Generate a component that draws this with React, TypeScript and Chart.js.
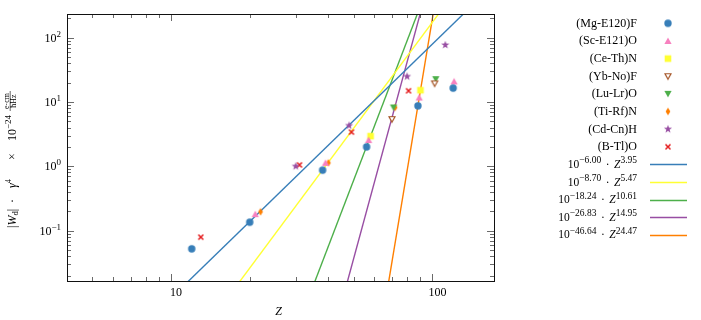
import React, { useEffect, useRef } from 'react';
import { Chart, registerables } from 'chart.js';

Chart.register(...registerables);

// ---------------- data ----------------
const mgZ = [12, 20, 38, 56, 88, 120];
const mgW = [0.052, 0.135, 0.87, 2.0, 8.7, 16.4];
const scZ = [21, 39, 57, 89, 121];
const scW = [0.18, 1.13, 2.55, 11.7, 20.8];
const ceZ = [58, 90];
const ceW = [2.94, 15.2];
const ybZ = [70, 102];
const ybW = [5.4, 19.4];
const luZ = [71, 103];
const luW = [8.2, 22.6];
const tiZ = [22, 40, 72];
const tiW = [0.196, 1.13, 8.2];
const cdZ = [30, 48, 80, 112];
const cdW = [1.0, 4.3, 24.9, 76.9];
const bZ = [13, 31, 49, 81];
const bW = [0.079, 1.05, 3.4, 14.9];

const seriesZ = [mgZ, scZ, ceZ, ybZ, luZ, tiZ, cdZ, bZ];
const seriesW = [mgW, scW, ceW, ybW, luW, tiW, cdW, bW];
const seriesLabels = ['(Mg-E120)F', '(Sc-E121)O', '(Ce-Th)N', '(Yb-No)F', '(Lu-Lr)O', '(Ti-Rf)N', '(Cd-Cn)H', '(B-Tl)O'];
const seriesColors = ['#377eb8', '#f781bf', '#ffff33', '#a65628', '#4daf4a', '#ff7f00', '#984ea3', '#e41a1c'];
const seriesMarkers = ['circle', 'triUp', 'square', 'triDownOpen', 'triDown', 'thinDiamond', 'star', 'x'];

// fit lines: W = 10^a * Z^b
const fitLogCoef = [-6.0, -8.7, -18.24, -26.83, -46.64];
const fitExponent = [3.95, 5.47, 10.61, 14.95, 24.47];
const fitColors = ['#377eb8', '#ffff33', '#4daf4a', '#984ea3', '#ff7f00'];

const xLimits = [4, 172];
const yLimits = [0.01644, 233];
const xMajorTicks = [10, 100];
const xTickLabels = ['10', '100'];
const yMajorTicks = [0.1, 1, 10, 100];
const yTickExponents = ['\u22121', '0', '1', '2'];

// ---------------- helpers ----------------
const SERIF = '"Liberation Serif", "DejaVu Serif", serif';

type Seg = { t?: string; size: number; italic?: boolean; dy?: number; gap?: number };

function fontOf(s: Seg) {
  return `${s.italic ? 'italic ' : ''}${s.size}px ${SERIF}`;
}

function segWidth(ctx: CanvasRenderingContext2D, s: Seg) {
  if (s.gap !== undefined) return s.gap;
  ctx.font = fontOf(s);
  return ctx.measureText(s.t || '').width;
}

function drawRich(ctx: CanvasRenderingContext2D, segs: Seg[], x: number, y: number, align: 'left' | 'right' | 'center') {
  const widths = segs.map((s) => segWidth(ctx, s));
  const total = widths.reduce((a, b) => a + b, 0);
  let cx = align === 'left' ? x : align === 'right' ? x - total : x - total / 2;
  ctx.textAlign = 'left';
  ctx.textBaseline = 'alphabetic';
  segs.forEach((s, i) => {
    if (s.gap === undefined) {
      ctx.font = fontOf(s);
      ctx.fillText(s.t || '', cx, y + (s.dy || 0));
    }
    cx += widths[i];
  });
  return total;
}

function makeMarker(kind: string, color: string): HTMLCanvasElement {
  const s = 16;
  const c = s / 2;
  const cv = document.createElement('canvas');
  cv.width = s;
  cv.height = s;
  const g = cv.getContext('2d')!;
  g.fillStyle = color;
  g.strokeStyle = color;
  g.beginPath();
  switch (kind) {
    case 'circle':
      g.arc(c, c, 3.7, 0, Math.PI * 2);
      g.fill();
      break;
    case 'triUp':
      g.moveTo(c, c - 3.5);
      g.lineTo(c + 3.6, c + 2.9);
      g.lineTo(c - 3.6, c + 2.9);
      g.closePath();
      g.fill();
      break;
    case 'square':
      g.rect(c - 3.3, c - 3.3, 6.6, 6.6);
      g.fill();
      break;
    case 'triDown':
      g.moveTo(c, c + 3.5);
      g.lineTo(c + 3.6, c - 2.9);
      g.lineTo(c - 3.6, c - 2.9);
      g.closePath();
      g.fill();
      break;
    case 'triDownOpen':
      g.moveTo(c, c + 3.0);
      g.lineTo(c + 3.0, c - 2.5);
      g.lineTo(c - 3.0, c - 2.5);
      g.closePath();
      g.fillStyle = '#ffffff';
      g.fill();
      g.lineWidth = 1.2;
      g.stroke();
      break;
    case 'thinDiamond':
      g.moveTo(c, c - 3.8);
      g.lineTo(c + 2.4, c);
      g.lineTo(c, c + 3.8);
      g.lineTo(c - 2.4, c);
      g.closePath();
      g.fill();
      break;
    case 'star': {
      const ro = 4.3;
      const ri = 1.7;
      for (let k = 0; k < 10; k++) {
        const r = k % 2 === 0 ? ro : ri;
        const a = -Math.PI / 2 + (k * Math.PI) / 5;
        const px = c + r * Math.cos(a);
        const py = c + r * Math.sin(a);
        if (k === 0) g.moveTo(px, py);
        else g.lineTo(px, py);
      }
      g.closePath();
      g.fill();
      break;
    }
    case 'x':
      g.lineWidth = 1.5;
      g.moveTo(c - 2.5, c - 2.5);
      g.lineTo(c + 2.5, c + 2.5);
      g.moveTo(c + 2.5, c - 2.5);
      g.lineTo(c - 2.5, c + 2.5);
      g.stroke();
      break;
  }
  return cv;
}

function fmtCoef(v: number) {
  return v.toFixed(2).replace('-', '\u2212');
}

// ---------------- component ----------------
export default function App() {
  const ref = useRef<HTMLCanvasElement | null>(null);

  useEffect(() => {
    const canvas = ref.current;
    if (!canvas) return;
    const markers = seriesMarkers.map((m, i) => makeMarker(m, seriesColors[i]));

    const scatterSets = seriesLabels.map((label, i) => ({
      label,
      data: seriesZ[i].map((z, j) => ({ x: z, y: seriesW[i][j] })),
      pointStyle: markers[i] as any,
      pointRadius: 4,
      pointHoverRadius: 4,
      showLine: false,
      order: 0,
    }));

    const fitSets = fitLogCoef.map((a, i) => ({
      label: `fit${i}`,
      data: xLimits.map((z) => ({ x: z, y: Math.pow(10, a + fitExponent[i] * Math.log10(z)) })),
      showLine: true,
      borderColor: fitColors[i],
      backgroundColor: fitColors[i],
      borderWidth: 1.4,
      pointRadius: 0,
      pointHoverRadius: 0,
      clip: 0,
      order: 1,
    }));

    const decor = {
      id: 'decor',
      afterDraw(chart: any) {
        const ctx: CanvasRenderingContext2D = chart.ctx;
        const { left, right, top, bottom } = chart.chartArea;
        const xs = chart.scales.x;
        const ys = chart.scales.y;
        ctx.save();

        // ticks (inward on all four sides)
        ctx.strokeStyle = '#444';
        ctx.lineWidth = 0.8;
        const tick = (x1: number, y1: number, x2: number, y2: number) => {
          ctx.beginPath();
          ctx.moveTo(x1, y1);
          ctx.lineTo(x2, y2);
          ctx.stroke();
        };
        for (let d = 0; d <= 3; d++) {
          for (let m = 1; m <= 9; m++) {
            const v = m * Math.pow(10, d);
            if (v < xLimits[0] || v > xLimits[1]) continue;
            const px = Math.round(xs.getPixelForValue(v)) + 0.5;
            const len = m === 1 ? 7 : 4;
            tick(px, bottom, px, bottom - len);
            tick(px, top, px, top + len);
          }
        }
        for (let d = -2; d <= 3; d++) {
          for (let m = 1; m <= 9; m++) {
            const v = m * Math.pow(10, d);
            if (v < yLimits[0] || v > yLimits[1]) continue;
            const py = Math.round(ys.getPixelForValue(v)) + 0.5;
            const len = m === 1 ? 7 : 4;
            tick(left, py, left + len, py);
            tick(right, py, right - len, py);
          }
        }

        // frame
        ctx.strokeStyle = '#111';
        ctx.lineWidth = 1;
        ctx.strokeRect(Math.round(left) + 0.5, Math.round(top) + 0.5, Math.round(right - left), Math.round(bottom - top));

        ctx.fillStyle = '#000';
        ctx.strokeStyle = '#000';
        // x tick labels
        xMajorTicks.forEach((v, i) => {
          const px = xs.getPixelForValue(v);
          drawRich(ctx, [{ t: xTickLabels[i], size: 12 }], px + 5, bottom + 14.5, 'center');
        });
        // y tick labels
        yMajorTicks.forEach((v, i) => {
          const py = ys.getPixelForValue(v);
          drawRich(ctx, [{ t: '10', size: 12 }, { t: yTickExponents[i], size: 9, dy: -5 }], left - 6, py + 4, 'right');
        });

        // x axis title
        drawRich(ctx, [{ t: 'Z', size: 12, italic: true }], (left + right) / 2 - 2, 315, 'center');

        // y axis title (rotated, reads bottom to top)
        ctx.save();
        ctx.translate(15.5, 228);
        ctx.rotate(-Math.PI / 2);
        drawRich(
          ctx,
          [
            { t: '|', size: 12 },
            { t: 'W', size: 12, italic: true },
            { t: 'd', size: 8.5, dy: 2.5 },
            { t: '|', size: 12 },
          ],
          0,
          0,
          'left'
        );
        drawRich(ctx, [{ t: '\u00b7', size: 12 }], 27, 0, 'center');
        drawRich(
          ctx,
          [
            { t: '\u03b3', size: 12, italic: true },
            { t: '4', size: 8.5, dy: -5 },
          ],
          40,
          0,
          'left'
        );
        drawRich(ctx, [{ t: '\u00d7', size: 12 }], 71.5, 0, 'center');
        drawRich(
          ctx,
          [
            { t: '10', size: 12 },
            { t: '\u221224', size: 9, dy: -5 },
          ],
          87,
          0,
          'left'
        );
        // fraction e·cm / ħHz
        ctx.font = `8px ${SERIF}`;
        ctx.textAlign = 'center';
        ctx.fillText('e\u00b7cm', 127, -7);
        ctx.fillText('\u0127Hz', 127, 0);
        ctx.lineWidth = 0.6;
        ctx.beginPath();
        ctx.moveTo(117, -5.3);
        ctx.lineTo(137, -5.3);
        ctx.stroke();
        ctx.restore();

        // legend
        const textRight = 637;
        const markX = 668;
        const rowY0 = 23.3;
        const rowStep = 17.64;
        seriesLabels.forEach((lab, i) => {
          const y = rowY0 + i * rowStep;
          drawRich(ctx, [{ t: lab, size: 12 }], textRight, y + 3.5, 'right');
          const mk = markers[i];
          ctx.drawImage(mk, markX - mk.width / 2, y - mk.height / 2);
        });
        fitLogCoef.forEach((a, i) => {
          const y = rowY0 + (seriesLabels.length + i) * rowStep;
          drawRich(
            ctx,
            [
              { t: '10', size: 11.5 },
              { t: fmtCoef(a), size: 9.5, dy: -4.5 },
              { gap: 4.5 },
              { t: '\u00b7', size: 11.5 },
              { gap: 4.5 },
              { t: 'Z', size: 11.5, italic: true },
              { t: fmtCoef(fitExponent[i]), size: 9.5, dy: -4.5 },
            ],
            textRight,
            y + 3.5,
            'right'
          );
          ctx.strokeStyle = fitColors[i];
          ctx.lineWidth = 1.5;
          ctx.beginPath();
          ctx.moveTo(650, Math.round(y) + 0.5);
          ctx.lineTo(687, Math.round(y) + 0.5);
          ctx.stroke();
        });

        ctx.restore();
      },
    };

    const chart = new Chart(canvas, {
      type: 'scatter',
      data: { datasets: [...scatterSets, ...fitSets] as any },
      options: {
        responsive: false,
        animation: false,
        events: [],
        layout: { padding: { top: 14, right: 207, left: 0, bottom: 0 } },
        plugins: { legend: { display: false }, tooltip: { enabled: false } },
        scales: {
          x: {
            type: 'logarithmic',
            min: xLimits[0],
            max: xLimits[1],
            ticks: { display: false },
            grid: { display: false },
            border: { display: false },
            afterFit: (s: any) => {
              s.height = 39;
            },
          },
          y: {
            type: 'logarithmic',
            min: yLimits[0],
            max: yLimits[1],
            ticks: { display: false },
            grid: { display: false },
            border: { display: false },
            afterFit: (s: any) => {
              s.width = 67;
            },
          },
        },
      },
      plugins: [decor],
    });
    return () => chart.destroy();
  }, []);

  return (
    <div style={{ position: 'absolute', left: 0, top: 0, width: 701, height: 320, background: '#fff' }}>
      <canvas ref={ref} width={701} height={320} />
    </div>
  );
}
